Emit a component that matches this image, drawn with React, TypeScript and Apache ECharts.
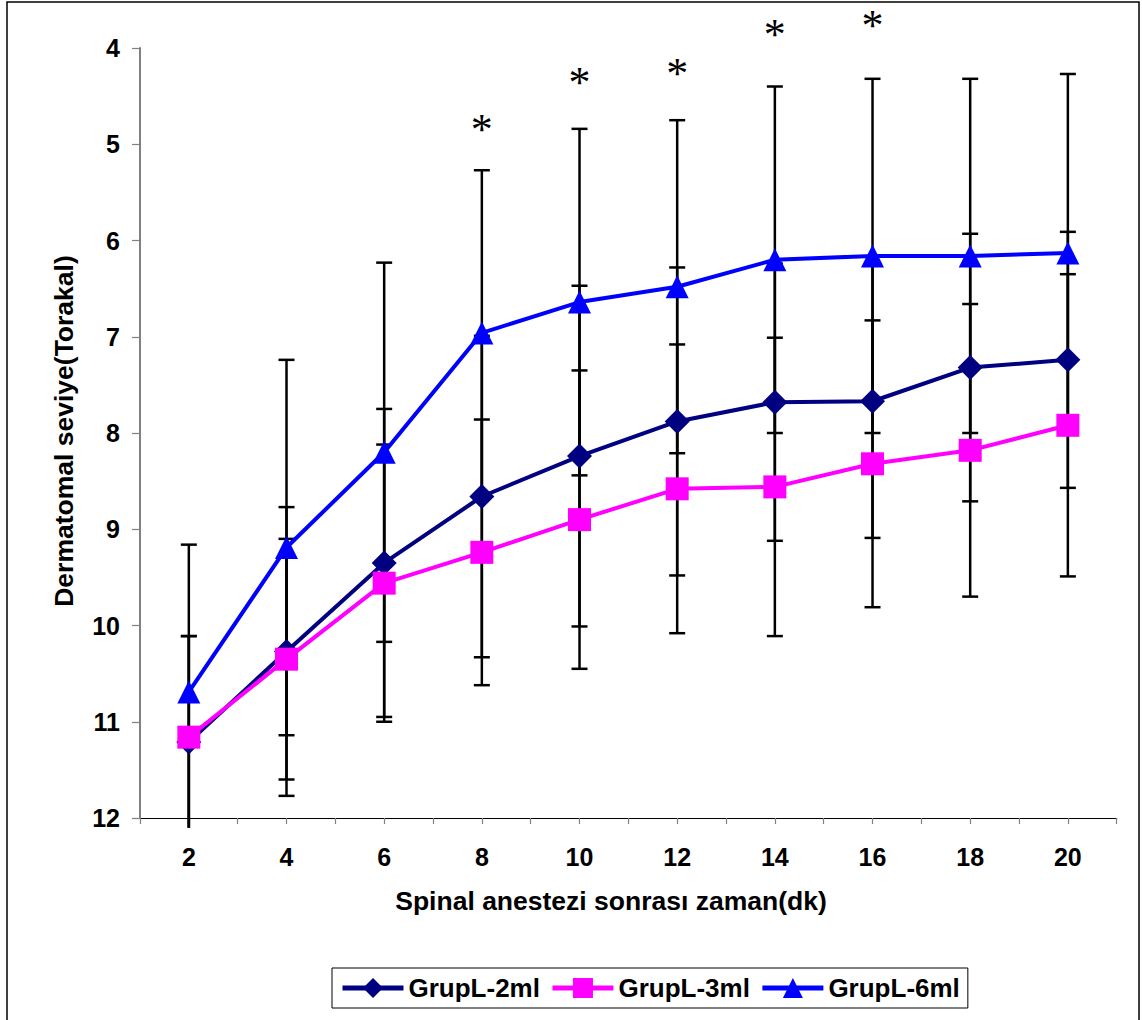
import React, { useEffect, useRef } from 'react';
import * as echarts from 'echarts';

// ---- data ----
const timePoints = [2, 4, 6, 8, 10, 12, 14, 16, 18, 20];
const seriesNames = ['GrupL-2ml', 'GrupL-3ml', 'GrupL-6ml'];
const mean2ml = [11.21, 10.27, 9.35, 8.66, 8.24, 7.88, 7.68, 7.67, 7.32, 7.24];
const sd2ml = [1.1, 1.5, 1.6, 1.67, 1.77, 1.6, 1.44, 1.42, 1.39, 1.33];
const mean3ml = [11.16, 10.35, 9.56, 9.24, 8.9, 8.58, 8.56, 8.32, 8.18, 7.92];
const sd3ml = [1.05, 1.25, 1.44, 1.38, 1.55, 1.5, 1.55, 1.49, 1.52, 1.57];
const mean6ml = [10.69, 9.19, 8.2, 6.96, 6.64, 6.48, 6.2, 6.16, 6.16, 6.13];
const sd6ml = [1.53, 1.95, 1.97, 1.69, 1.8, 1.73, 1.8, 1.84, 1.84, 1.86];
const starTimes = [8, 10, 12, 14, 16];
const starLevels = [4.78, 4.3, 4.2, 3.8, 3.7];
const yMin = 4;
const yMax = 12;
const xMin = 1;
const xMax = 21;
const xTitle = 'Spinal anestezi sonrası zaman(dk)';
const yTitle = 'Dermatomal seviye(Torakal)';

const FONT = '"Liberation Sans", Arial, sans-serif';
const colors = ['#000080', '#FF00FF', '#0000FF'];
const symbols = ['diamond', 'rect', 'triangle'];
const means = [mean2ml, mean3ml, mean6ml];
const sds = [sd2ml, sd3ml, sd6ml];

function errorRender(params: any, api: any) {
  const x = api.value(0);
  const m = api.value(1);
  const s = api.value(2);
  const top = m - s;
  const bottomRaw = m + s;
  const bottom = Math.min(bottomRaw, yMax + 0.1);
  const p1 = api.coord([x, top]);
  const p2 = api.coord([x, bottom]);
  const cw = 8;
  const st = { stroke: '#000', lineWidth: 2.5 };
  const children: any[] = [
    { type: 'line', shape: { x1: p1[0], y1: p1[1], x2: p2[0], y2: p2[1] }, style: st },
    { type: 'line', shape: { x1: p1[0] - cw, y1: p1[1], x2: p1[0] + cw, y2: p1[1] }, style: st },
  ];
  if (bottomRaw <= yMax) {
    children.push({ type: 'line', shape: { x1: p2[0] - cw, y1: p2[1], x2: p2[0] + cw, y2: p2[1] }, style: st });
  }
  return { type: 'group', children };
}

function starRender(params: any, api: any) {
  const p = api.coord([api.value(0), api.value(1)]);
  return {
    type: 'text',
    x: p[0],
    y: p[1] + 6,
    style: {
      text: '*',
      fontSize: 44,
      fontFamily: '"Liberation Serif", "Times New Roman", serif',
      fill: '#000',
      textAlign: 'center',
      textVerticalAlign: 'middle',
    },
  };
}

export default function App() {
  const ref = useRef<HTMLDivElement>(null);
  useEffect(() => {
    document.body.style.margin = '0';
    const chart = echarts.init(ref.current!, undefined, { renderer: 'svg' });
    const series: any[] = [];
    seriesNames.forEach((name, i) => {
      series.push({
        name: 'err-' + name,
        type: 'custom',
        renderItem: errorRender,
        clip: false,
        z: 1,
        data: timePoints.map((t, k) => [t, means[i][k], sds[i][k]]),
        encode: { x: 0, y: 1 },
      });
    });
    seriesNames.forEach((name, i) => {
      series.push({
        name,
        type: 'line',
        z: 3 + i,
        data: timePoints.map((t, k) => [t, means[i][k]]),
        symbol: symbols[i],
        symbolSize: i === 0 ? 25 : 23,
        showAllSymbol: true,
        lineStyle: { color: colors[i], width: 4 },
        itemStyle: { color: colors[i] },
        emphasis: { disabled: true },
      });
    });
    series.push({
      name: 'stars',
      type: 'custom',
      renderItem: starRender,
      clip: false,
      z: 10,
      data: starTimes.map((t, k) => [t, starLevels[k]]),
      encode: { x: 0, y: 1 },
    });

    chart.setOption({
      animation: false,
      backgroundColor: '#fff',
      grid: { left: 140, top: 48, right: 25.3, bottom: 202, containLabel: false },
      xAxis: {
        type: 'value',
        min: xMin,
        max: xMax,
        interval: 1,
        axisLine: { show: true, lineStyle: { color: '#000', width: 1.2 } },
        axisTick: { show: true, inside: false, length: 6, lineStyle: { color: '#808080', width: 1.2 } },
        axisLabel: {
          margin: 26,
          fontSize: 25,
          fontWeight: 'bold',
          fontFamily: FONT,
          color: '#000',
          formatter: (v: number) => (v % 2 === 0 ? String(v) : ''),
          showMinLabel: true,
          showMaxLabel: true,
        },
        splitLine: { show: false },
      },
      yAxis: {
        type: 'value',
        inverse: true,
        min: yMin,
        max: yMax,
        interval: 1,
        axisLine: { show: true, lineStyle: { color: '#808080', width: 2 } },
        axisTick: { show: true, length: 8, lineStyle: { color: '#808080', width: 1.2 } },
        axisLabel: { margin: 20, fontSize: 25, fontWeight: 'bold', fontFamily: FONT, color: '#000' },
        splitLine: { show: false },
      },
      legend: {
        data: seriesNames,
        left: 332,
        top: 968,
        itemWidth: 61,
        itemHeight: 25,
        itemGap: 10,
        padding: [7, 8],
        borderColor: '#000',
        borderWidth: 1,
        backgroundColor: '#fff',
        lineStyle: { width: 5 },
        textStyle: { fontSize: 26, fontWeight: 'bold', fontFamily: FONT, color: '#000' },
        selectedMode: false,
      },
      graphic: [
        {
          type: 'rect',
          shape: { x: 7, y: 2, width: 1132, height: 1040 },
          style: { fill: 'none', stroke: '#000', lineWidth: 1.5 },
          silent: true,
          z: -10,
        },
        {
          type: 'text',
          x: 611,
          y: 901,
          style: {
            text: xTitle,
            fontSize: 26.5,
            fontWeight: 'bold',
            fontFamily: FONT,
            fill: '#000',
            textAlign: 'center',
            textVerticalAlign: 'middle',
          },
        },
        {
          type: 'text',
          x: 64,
          y: 431,
          rotation: Math.PI / 2,
          style: {
            text: yTitle,
            fontSize: 26.5,
            fontWeight: 'bold',
            fontFamily: FONT,
            fill: '#000',
            textAlign: 'center',
            textVerticalAlign: 'middle',
          },
        },
      ],
      series,
    });
    return () => chart.dispose();
  }, []);
  return <div ref={ref} style={{ width: 1142, height: 1020 }} />;
}
